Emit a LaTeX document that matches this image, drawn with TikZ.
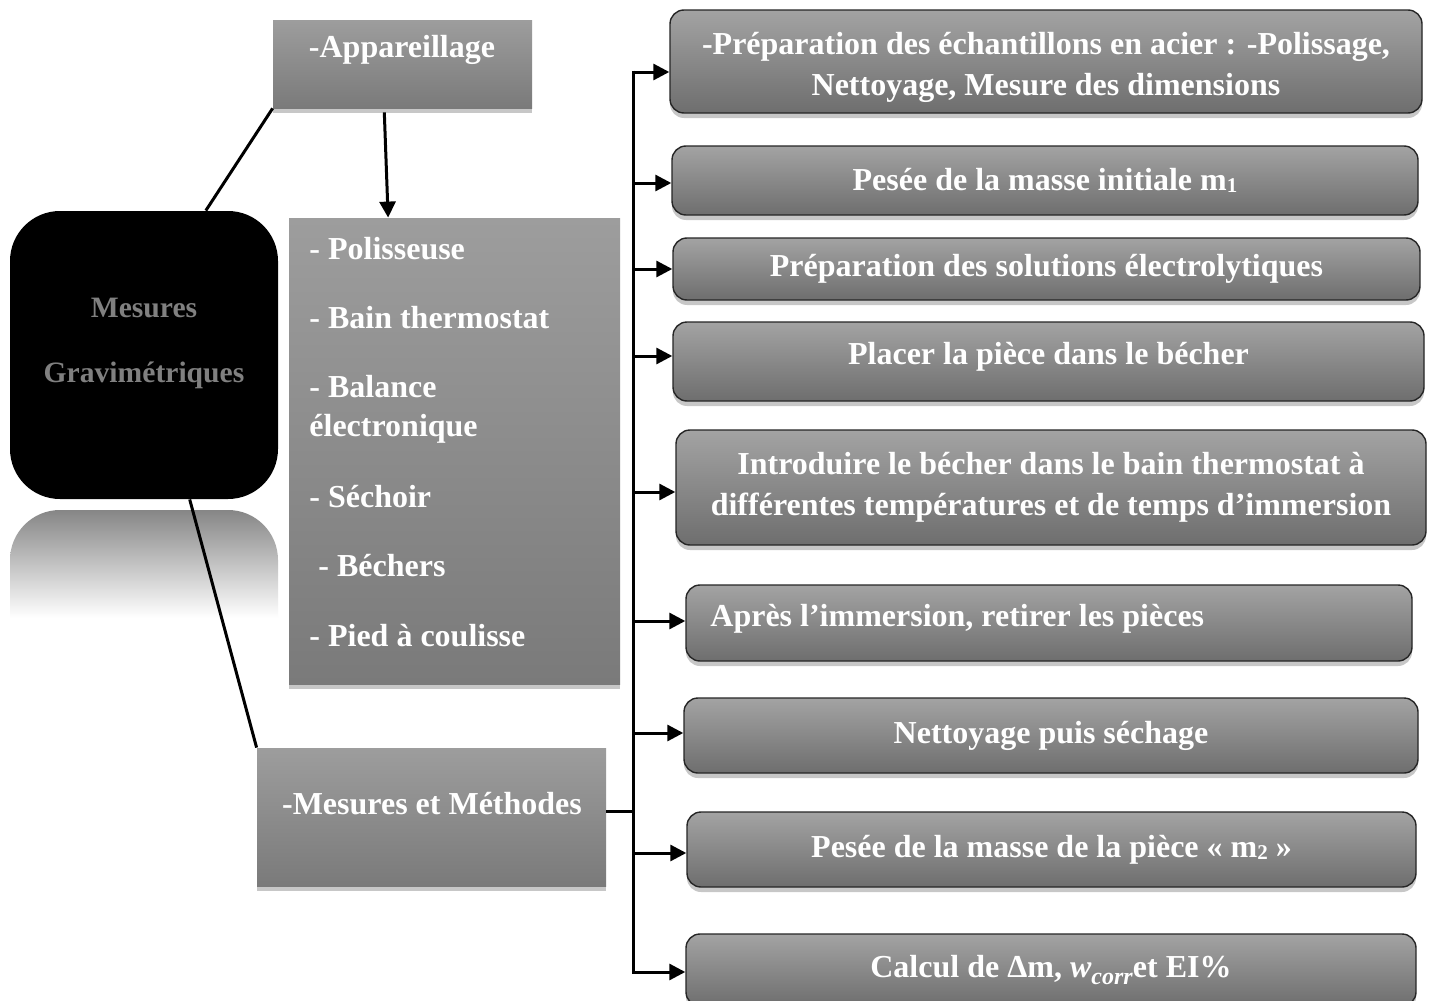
\documentclass[tikz,border=0pt]{standalone}
\usepackage{fontspec}
\setmainfont{Liberation Serif}
\usetikzlibrary{arrows.meta,shadows,calc}
\definecolor{gtop}{HTML}{A3A3A3}
\definecolor{gbot}{HTML}{6E6E6E}
\definecolor{ltop}{HTML}{9D9D9D}
\definecolor{lbot}{HTML}{7A7A7A}
\definecolor{mtxt}{HTML}{808080}
\definecolor{reftop}{HTML}{868686}
\newcommand\subnum[1]{\raisebox{-1pt}{\fontsize{10.5}{10.5}\selectfont #1}}
\newcommand\wcorr{\textit{w}\raisebox{-3.5pt}{\fontsize{12}{12}\selectfont\textit{corr}}}
\begin{document}
\begin{tikzpicture}[x=0.5pt,y=-0.5pt,
  font=\fontsize{16}{20.5}\selectfont\bfseries,
  shad/.style={drop shadow={shadow xshift=0pt,shadow yshift=-2.5pt,opacity=0.22,fill=black}},
  stepbox/.style={draw=black!85, line width=0.7pt, rounded corners=7pt, top color=gtop, bottom color=gbot, shad, text=white, align=center, inner sep=0pt},
  sqbox/.style={draw=none, top color=ltop, bottom color=lbot, shad, inner sep=0pt},
  lbl/.style={text=white, inner sep=0pt},
  conn/.style={line width=1.5pt},
  arr/.style={line width=1.5pt, -{Triangle[length=8pt,width=8pt]}}]
\useasboundingbox (0,0) rectangle (1432,1001);
\fill[white] (0,0) rectangle (1432,1001);

% reflection
\shade[top color=reftop, bottom color=white, rounded corners=25pt] (10,618) -- (10,510) -- (278,510) -- (278,618);

% left black box
\node[fill=black, rounded corners=25pt, minimum width=134pt, minimum height=144pt, inner sep=0pt] (blk) at (144,355) {};
\node[text=mtxt, inner sep=0pt, font=\fontsize{14.8}{18}\selectfont\bfseries] (blk1) at (144,308) {Mesures};
\node[text=mtxt, inner sep=0pt, font=\fontsize{14.8}{18}\selectfont\bfseries] (blk2) at (144,375) {Gravimétriques};

% Appareillage
\node[sqbox, minimum width=129.5pt, minimum height=44pt] (app) at (402.5,64) {};
\node[lbl] (appl) at (402,50) {-Appareillage};

% list box
\node[sqbox, minimum width=165.5pt, minimum height=233pt] (lst) at (454.5,451) {};
\node[lbl, anchor=west] (l1) at (309,249) {- Polisseuse};
\node[lbl, anchor=west] (l2) at (309,318) {- Bain thermostat};
\node[lbl, anchor=west] (l3) at (309,387) {- Balance};
\node[lbl, anchor=west] (l4) at (309,429) {électronique};
\node[lbl, anchor=west] (l5) at (309,497) {- Séchoir};
\node[lbl, anchor=west] (l6) at (318,566) {- Béchers};
\node[lbl, anchor=west] (l7) at (309,636) {- Pied à coulisse};

% Mesures et Méthodes
\node[sqbox, minimum width=174.5pt, minimum height=69pt] (mm) at (431.5,817) {};
\node[lbl] (mml) at (432,804) {-Mesures et Méthodes};

% right boxes
\node[stepbox, minimum width=376pt, minimum height=51.5pt] (b1) at (1046,61.5) {};
\node[lbl, align=center] (b1l) at (1046,67) {-Préparation des échantillons en acier : -Polissage,\\Nettoyage, Mesure des dimensions};
\node[stepbox, minimum width=373pt, minimum height=34.5pt] (b2) at (1045,180.5) {Pesée de la masse initiale m\subnum{1}};
\node[stepbox, minimum width=373.5pt, minimum height=31pt] (b3) at (1046.5,269) {Préparation des solutions électrolytiques};
\node[stepbox, minimum width=375.5pt, minimum height=39.5pt] (b4) at (1048.5,361.5) {};
\node[lbl] (b4l) at (1048.5,357) {Placer la pièce dans le bécher};
\node[stepbox, minimum width=375pt, minimum height=57.5pt] (b5) at (1051,487.5) {Introduire le bécher dans le bain thermostat à\\différentes températures et de temps d’immersion};
\node[stepbox, minimum width=363pt, minimum height=38pt] (b6) at (1049,623) {};
\node[lbl, anchor=west] (b6l) at (710,619) {Après l’immersion, retirer les pièces};
\node[stepbox, minimum width=367pt, minimum height=37.5pt] (b7) at (1051,735.5) {Nettoyage puis séchage};
\node[stepbox, minimum width=364.5pt, minimum height=37.5pt] (b8) at (1051.5,849.5) {Pesée de la masse de la pièce « m\subnum{2} »};
\node[stepbox, minimum width=365pt, minimum height=36pt] (b9) at (1051,970) {Calcul de Δm, \wcorr et EI\%};

% connectors
\coordinate (trk) at (633,0);
\coordinate (a1) at ([yshift=-5.25pt]b1.west);
\coordinate (a2) at ([yshift=-1.25pt]b2.west);
\coordinate (a3) at (b3.west);
\coordinate (a4) at ([yshift=2.75pt]b4.west);
\coordinate (a5) at ([yshift=-2.25pt]b5.west);
\coordinate (a6) at ([yshift=1pt]b6.west);
\coordinate (a7) at ([yshift=1.25pt]b7.west);
\coordinate (a8) at ([yshift=-1.75pt]b8.west);
\coordinate (a9) at ([yshift=-1pt]b9.west);
\draw[conn] ([yshift=0.75pt]trk |- a1) -- ([yshift=-0.75pt]trk |- a9);
\foreach \i in {1,...,9} { \draw[arr] (trk |- a\i) -- (a\i); }
\coordinate (mmo) at ([yshift=3pt]mm.east);
\draw[conn] (mmo) -- (trk |- mmo);

\draw[conn] ($(blk.north west)!0.73!(blk.north east)$) -- (app.south west);
\draw[conn] ($(blk.south west)!0.67!(blk.south east)$) -- (mm.north west);
\coordinate (appo) at ($(app.south west)!0.43!(app.south east)+(0,4)$);
\draw[arr] (appo) -- ($(lst.north west)!0.3!(lst.north east)$);
\end{tikzpicture}
\end{document}
